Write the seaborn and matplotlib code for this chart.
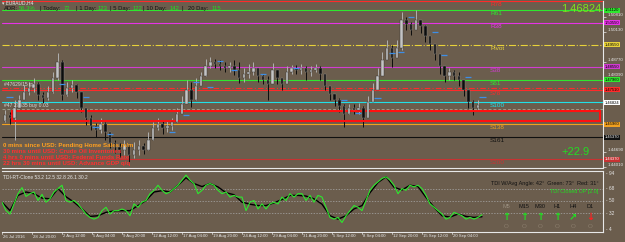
import matplotlib
matplotlib.use("Agg")
import matplotlib.pyplot as plt
import matplotlib.transforms as mtrans
from matplotlib.patches import Rectangle
import seaborn as sns
import pandas as pd
import numpy as np

sns.set_theme(style="dark")
plt.rcParams['font.family'] = ['Liberation Sans', 'DejaVu Sans']

W, H = 625, 242
BG = '#6b5d4d'
FG = '#e8e8e8'

# ---- EURAUD H4 candles ----
first_open = 1.4610
closes = [1.4637, 1.4624, 1.4669, 1.4705, 1.4741, 1.4760, 1.4778, 1.4728, 1.4714, 1.4741,
          1.4805, 1.4878, 1.4728, 1.4760, 1.4773, 1.4741, 1.4669, 1.4624, 1.4587, 1.4569,
          1.4596, 1.4560, 1.4510, 1.4492, 1.4478, 1.4501, 1.4455, 1.4478, 1.4496, 1.4478,
          1.4523, 1.4578, 1.4596, 1.4578, 1.4587, 1.4606, 1.4642, 1.4687, 1.4751, 1.4705,
          1.4769, 1.4814, 1.4860, 1.4878, 1.4869, 1.4860, 1.4850, 1.4860, 1.4841, 1.4805,
          1.4823, 1.4832, 1.4850, 1.4814, 1.4796, 1.4778, 1.4841, 1.4805, 1.4778, 1.4832,
          1.4850, 1.4841, 1.4850, 1.4832, 1.4841, 1.4850, 1.4823, 1.4769, 1.4732, 1.4705,
          1.4678, 1.4642, 1.4669, 1.4660, 1.4669, 1.4624, 1.4696, 1.4751, 1.4814, 1.4887,
          1.4941, 1.4896, 1.4941, 1.5068, 1.5050, 1.5023, 1.5068, 1.5041, 1.4996, 1.4959,
          1.4914, 1.4860, 1.4814, 1.4832, 1.4814, 1.4796, 1.4751, 1.4696, 1.4669, 1.4682]
highs = [1.4660, 1.4651, 1.4705, 1.4728, 1.4773, 1.4787, 1.4805, 1.4787, 1.4741, 1.4769,
         1.4832, 1.4918, 1.4887, 1.4787, 1.4796, 1.4778, 1.4728, 1.4669, 1.4637, 1.4601,
         1.4624, 1.4606, 1.4560, 1.4523, 1.4510, 1.4523, 1.4501, 1.4514, 1.4523, 1.4510,
         1.4560, 1.4606, 1.4624, 1.4615, 1.4610, 1.4624, 1.4669, 1.4723, 1.4796, 1.4787,
         1.4805, 1.4832, 1.4891, 1.4900, 1.4891, 1.4887, 1.4878, 1.4878, 1.4887, 1.4878,
         1.4850, 1.4869, 1.4878, 1.4850, 1.4823, 1.4814, 1.4873, 1.4841, 1.4805, 1.4860,
         1.4864, 1.4864, 1.4869, 1.4860, 1.4860, 1.4869, 1.4860, 1.4814, 1.4769, 1.4732,
         1.4714, 1.4687, 1.4687, 1.4687, 1.4691, 1.4678, 1.4723, 1.4782, 1.4850, 1.4923,
         1.4978, 1.4955, 1.4978, 1.5105, 1.5082, 1.5059, 1.5114, 1.5068, 1.5046, 1.4996,
         1.4959, 1.4909, 1.4860, 1.4850, 1.4841, 1.4832, 1.4787, 1.4741, 1.4705, 1.4705]
lows = [1.4606, 1.4596, 1.4523, 1.4678, 1.4714, 1.4728, 1.4741, 1.4705, 1.4691, 1.4705,
        1.4737, 1.4796, 1.4705, 1.4723, 1.4741, 1.4714, 1.4651, 1.4592, 1.4569, 1.4537,
        1.4555, 1.4523, 1.4487, 1.4465, 1.4446, 1.4455, 1.4419, 1.4442, 1.4455, 1.4460,
        1.4478, 1.4523, 1.4569, 1.4551, 1.4560, 1.4569, 1.4606, 1.4651, 1.4705, 1.4673,
        1.4705, 1.4778, 1.4814, 1.4850, 1.4850, 1.4841, 1.4832, 1.4832, 1.4819, 1.4782,
        1.4787, 1.4805, 1.4819, 1.4787, 1.4778, 1.4705, 1.4796, 1.4778, 1.4751, 1.4796,
        1.4823, 1.4823, 1.4823, 1.4796, 1.4814, 1.4832, 1.4796, 1.4751, 1.4705, 1.4678,
        1.4651, 1.4583, 1.4642, 1.4642, 1.4642, 1.4583, 1.4669, 1.4714, 1.4773, 1.4841,
        1.4909, 1.4855, 1.4905, 1.4932, 1.5023, 1.5000, 1.5032, 1.5009, 1.4968, 1.4932,
        1.4887, 1.4823, 1.4787, 1.4796, 1.4796, 1.4769, 1.4723, 1.4669, 1.4637, 1.4660]

# short blue marks next to candles (bar, price)
mark_bars = [0, 11, 16, 18, 21, 34, 37, 39, 42, 44, 47, 53, 60, 70, 73, 77, 80, 82, 84, 89, 91, 96, 99]
mark_prices = [1.4719, 1.4778, 1.4719, 1.4583, 1.4551, 1.4560, 1.4637, 1.4787, 1.4764, 1.4882,
               1.4841, 1.4823, 1.4850, 1.4705, 1.4646, 1.4714, 1.4918, 1.4923, 1.5082, 1.5014,
               1.4909, 1.4810, 1.4719]

# pivot levels
level_names = ['R78', 'R61', 'R38', 'Pivot', 'S38', 'S61', 'S78', 'S100', 'S138', 'S161', 'S200']
level_prices = [1.5155, 1.5112, 1.5055, 1.4955, 1.4855, 1.4796, 1.4751, 1.4696, 1.4596, 1.4537, 1.4437]
level_colors = ['#ff2a2a', '#2ee82e', '#e632e6', '#e8d23a', '#d23cd2', '#2ee82e', '#ff2a2a',
                '#20e0e8', '#f0a020', '#101010', '#c83232']
level_styles = ['-', '-', '-', '-.', '-', '-', '-', '-', '-', '-', '-']
tp_price = 1.4760
order_price = 1.4664
zone_low, zone_high = 1.4610, 1.4655
current_price = 1.46824

# axis labels that are not covered by the level boxes
price_ticks = [1.50810, 1.50130, 1.48770, 1.48090, 1.44690, 1.44010]

# TDI
tdi_green = [48, 35.5, 30.5, 45.5, 60.5, 69.5, 56.5, 60.5, 63, 50.5,
             59.5, 48, 53, 63, 68, 73, 50.5, 48, 50.5, 45.5,
             38, 30.5, 25.5, 23, 25.5, 35.5, 40.5, 30.5, 35.5, 35.5,
             38, 35.5, 28, 45.5, 40.5, 48, 50.5, 60.5, 65.5, 73,
             65.5, 60.5, 63, 68, 73, 80.5, 88, 80.5, 75.5, 60.5,
             65.5, 73, 75.5, 73, 65.5, 60.5, 63, 55.5, 58, 55.5,
             55.5, 35.5, 48, 50.5, 38, 45.5, 38, 45.5, 48, 45.5,
             55.5, 50.5, 60.5, 55.5, 60.5, 60.5, 50.5, 58, 48, 58,
             55.5, 40.5, 25.5, 23, 25.5, 18, 28, 35.5, 43, 40.5,
             35.5, 50.5, 65.5, 73, 78, 83, 85.5, 80.5, 73, 60.5,
             68, 65.5, 73, 70.5, 73, 68, 58, 45.5, 40.5, 35.5,
             30.5, 23, 25.5, 33, 30.5, 28, 23, 25.5, 23, 25.5, 29.5]
tdi_black = [48, 35.5, 58, 63, 60.5, 54, 53, 68, 56, 48,
             38, 27, 28, 33, 35, 35.5, 35.5, 43, 50.5, 63,
             65, 63, 73, 84, 75.5, 71, 75.5, 70.5, 62, 59,
             48, 45, 43, 43, 47, 52, 58, 58, 57, 53,
             45, 28, 23, 28, 38, 43, 62, 77, 85.5, 70,
             66, 73, 71, 55, 40.5, 28, 26, 30.5, 27, 25.5, 26.5]
tdi_levels = [68, 50, 32]
tdi_axis = [94, 68, 50, 32, 4]

date_labels = ['26 Jul 2016', '28 Jul 20:00', '2 Aug 12:00', '5 Aug 04:00', '9 Aug 20:00',
               '12 Aug 12:00', '17 Aug 04:00', '19 Aug 20:00', '24 Aug 12:00', '29 Aug 04:00',
               '31 Aug 20:00', '5 Sep 12:00', '8 Sep 04:00', '12 Sep 20:00', '15 Sep 12:00',
               '20 Sep 04:00']

tfs = ['M5', 'M15', 'M30', 'H1', 'H4', 'D1']
tf_arrows = ['↑', '↑', '↑', '↑', '↗', '↓']
tf_colors = ['#22dd22', '#22dd22', '#22dd22', '#22dd22', '#22dd22', '#ff2020']

events = ['0 mins since USD: Pending Home Sales m/m',
          '30 mins until USD: Crude Oil Inventories',
          '4 hrs 0 mins until USD: Federal Funds Rate',
          '22 hrs 30 mins until USD: Advance GDP q/q']
event_colors = ['#ffa020', '#ff3030', '#ff3030', '#ff3030']


def box(x0, y0, x1, y1):
    return [x0 / W, 1 - y1 / H, (x1 - x0) / W, (y1 - y0) / H]


def ftxt(x, y, s, **kw):
    kw.setdefault('va', 'center')
    kw.setdefault('ha', 'left')
    fig.text(x / W, 1 - y / H, s, **kw)


fig = plt.figure(figsize=(W / 100, H / 100), dpi=100, facecolor=BG)

# ---- main price panel ----
ax = fig.add_axes(box(2, 1, 603, 168), facecolor=BG)
n = len(closes)
opens = [first_open] + closes[:-1]
df = pd.DataFrame({'bar': np.arange(n), 'open': opens, 'close': closes,
                   'high': highs, 'low': lows})
df['up'] = df['close'] >= df['open']
for up, sub in df.groupby('up'):
    body = '#c4c4c4' if up else '#0c0c0c'
    wick = '#b0b0b0' if up else '#0c0c0c'
    ax.vlines(sub['bar'], sub['low'], sub['high'], color=wick, lw=0.7, zorder=3)
    ax.bar(sub['bar'], (sub['close'] - sub['open']).abs() + 0.00005,
           bottom=np.minimum(sub['open'], sub['close']), width=0.5,
           color=body, edgecolor='#303030' if up else '#8a8a8a', lw=0.3, zorder=4)
ax.hlines(mark_prices, np.array(mark_bars) + 0.3, np.array(mark_bars) + 1.6,
          color='#3d8ee6', lw=0.9, zorder=5)

ax.set_xlim(-0.63, 125.16)
ax.set_ylim(1.43964, 1.51546)
trans = mtrans.blended_transform_factory(ax.transAxes, ax.transData)

for name, p, c, ls in zip(level_names, level_prices, level_colors, level_styles):
    ax.axhline(p, color=c, lw=0.8, ls=ls, zorder=2)
    ax.text(0.812, p - 0.0004, name, color=c, fontsize=4.6, transform=trans,
            ha='left', va='top', zorder=6)
    if name == 'R78':
        continue
    ax.text(1.003, p, f'{p:.5f}', color='white' if name in ('S161', 'S200') else 'black',
            fontsize=3.0, transform=trans, ha='left', va='center', clip_on=False, zorder=8,
            bbox=dict(boxstyle='square,pad=0.12', fc=c, ec='none'))
ax.axhline(tp_price, color='#ff2a2a', lw=0.8, ls=(0, (5, 2, 1, 2)), zorder=2)
ax.axhline(order_price, color='#9aa08a', lw=0.7, ls=(0, (3, 2)), zorder=2)
ax.add_patch(Rectangle((0.017, zone_low), 0.978, zone_high - zone_low, transform=trans,
                       fill=False, ec='#ff1010', lw=1.5, zorder=3))
ax.text(1.003, current_price + 0.0011, f'{current_price:.5f}', color='black', fontsize=3.0,
        transform=trans, ha='left', va='center', clip_on=False, zorder=9,
        bbox=dict(boxstyle='square,pad=0.12', fc='white', ec='none'))
ax.text(0.004, tp_price + 0.0006, '#47629/15 tp', color='#d8d8d8', fontsize=3.6,
        transform=trans, va='bottom')
ax.text(0.004, order_price + 0.0004, '#47 29535 buy 0.03', color='#d8d8d8', fontsize=3.6,
        transform=trans, va='bottom')

ax.yaxis.tick_right()
ax.set_yticks(price_ticks)
ax.set_yticklabels([f'{p:.5f}' for p in price_ticks], va='bottom')
ax.tick_params(axis='y', colors=FG, labelsize=3.2, length=2, width=0.5, pad=1)
ax.set_xticks([])
for s in ['left', 'top']:
    ax.spines[s].set_visible(False)
for s in ['right', 'bottom']:
    ax.spines[s].set_color(FG)
    ax.spines[s].set_linewidth(0.8)

# ---- TDI panel ----
ax2 = fig.add_axes(box(2, 171, 603, 232), facecolor=BG)
for lv in tdi_levels:
    ax2.axhline(lv, color='#a8a8a8', lw=0.5, ls=(0, (2, 2)))
gdf = pd.DataFrame({'j': np.arange(len(tdi_green)), 'v': tdi_green})
bdf = pd.DataFrame({'j': np.arange(0, 2 * len(tdi_black), 2), 'v': tdi_black})
sns.lineplot(data=bdf, x='j', y='v', color='black', lw=1.0, ax=ax2)
sns.lineplot(data=gdf, x='j', y='v', color='#2ee82e', lw=0.8, ax=ax2)
ax2.set_xlim(0, 150.25)
ax2.set_ylim(4, 94)
ax2.set_xlabel('')
ax2.set_ylabel('')
ax2.set_xticks([])
ax2.set_yticks([])
ax2.spines['left'].set_visible(False)
for s in ['right', 'bottom', 'top']:
    ax2.spines[s].set_color(FG)
    ax2.spines[s].set_linewidth(0.8)
t2 = mtrans.blended_transform_factory(ax2.transAxes, ax2.transData)
for v in tdi_axis:
    va = 'top' if v == 94 else ('bottom' if v == 4 else 'center')
    ax2.text(1.005, v, f'- {v}', color=FG, fontsize=3.4, transform=t2, va=va,
             clip_on=False)
ax2.text(0.002, 0.93, 'TDI-RT-Clone 53.2 12.5 32.8 26.1 30.2', color=FG, fontsize=3.5,
         transform=ax2.transAxes, va='top')
ax2.text(0.992, 0.8, 'TDI W/Avg Angle: 42°  Green: 73°  Red: 31°', color='#111111',
         fontsize=4.0, transform=ax2.transAxes, ha='right', va='center')
ax2.text(0.992, 0.66, 'TDI Closed UP [2.0]', color='#22dd22', fontsize=4.0,
         transform=ax2.transAxes, ha='right', va='center')

tf_x = [506, 524, 540, 557, 573, 590]
for x, tf, ar, c in zip(tf_x, tfs, tf_arrows, tf_colors):
    ftxt(x, 206, tf, color='#9a8f80' if tf == 'M5' else '#111111', fontsize=4.0, ha='center')
    ftxt(x, 217, ar, color=c, fontsize=7, ha='center', fontweight='bold',
         family='DejaVu Sans')
    ftxt(x, 227, 'O', color='#8a7d6c', fontsize=4.5, ha='center')

# ---- date axis ----
for k, lab in enumerate(date_labels):
    xp = 2 + 30 * k
    ftxt(xp + 1, 236.5, lab, color=FG, fontsize=3.1)
    fig.lines.append(plt.Line2D([xp / W, xp / W], [1 - 232 / H, 1 - 234 / H],
                                transform=fig.transFigure, color=FG, lw=0.5))

# ---- header texts ----
ftxt(2, 2.8, '▾ EURAUD,H4', color=FG, fontsize=3.4, family='DejaVu Sans')
header = [(4, 'ADR:', '#111111'), (19, '56.3%', '#22dd22'), (40, '| Today:', '#111111'),
          (64, '72', '#22dd22'), (76, '| 1 Day:', '#111111'), (98, '123', '#22dd22'),
          (110, '| 5 Day:', '#111111'), (133, '122', '#22dd22'), (143, '| 10 Day:', '#111111'),
          (170, '142', '#22dd22'), (182, '|', '#111111'), (188, '20 Day:', '#111111'),
          (212, '115', '#22dd22')]
for x, s, c in header:
    ftxt(x, 8.2, s, color=c, fontsize=4.2)
ftxt(601, 8.5, f'{current_price:.5f}', color='#7fe01e', fontsize=8, ha='right')
ftxt(575, 152, '+22.9', color='#22dd22', fontsize=8, ha='center')

for k, (ev, c) in enumerate(zip(events, event_colors)):
    ftxt(3, 146 + 5.8 * k, ev, color=c, fontsize=4.4, fontweight='bold')

fig.savefig('out.png', dpi=100, facecolor=BG)
